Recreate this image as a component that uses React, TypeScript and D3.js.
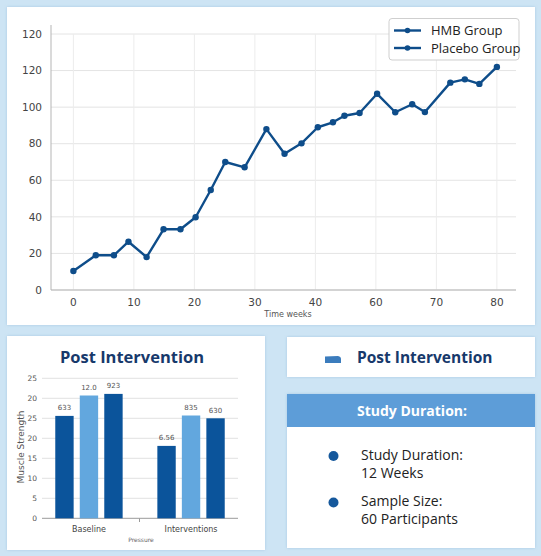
import React from "react";
import * as d3 from "d3";

// ---------- Line chart data ----------
const weeks = [0, 3.7, 6.7, 9.1, 12.1, 14.9, 17.7, 20.2, 22.7, 25.1, 28.3, 31.9, 34.9, 37.7, 40.4, 42.9, 44.8, 47.3, 50.2, 53.2, 56.0, 58.1, 62.3, 64.7, 67.1, 70.0];
const strength = [10.4, 19.0, 19.0, 26.4, 18.0, 33.2, 33.2, 39.8, 54.7, 70.0, 67.1, 88.0, 74.5, 80.2, 89.0, 91.7, 95.3, 96.8, 107.3, 97.2, 101.6, 97.3, 113.4, 115.2, 112.7, 122.0];
const xTickVals = [0, 10, 20, 30, 40, 50, 60, 70];
const xTickLabels = ["0", "10", "20", "30", "40", "60", "70", "80"];
const yTickVals = [0, 20, 40, 60, 80, 100, 120, 140];
const yTickLabels = ["0", "20", "40", "60", "80", "100", "120", "120"];
const legendItems = ["HMB Group", "Placebo Group"];

// ---------- Bar chart data ----------
const groups = ["Baseline", "Interventions"];
const seriesKeys = ["a", "b", "c"];
const baselineValues = [25.6, 30.7, 31.1];
const interventionValues = [18.1, 25.7, 25.0];
const baselineLabels = ["633", "12.0", "923"];
const interventionLabels = ["6.56", "835", "630"];
const barYTickVals = [0, 5, 10, 15, 20, 25, 30, 35];
const barYTickLabels = ["0", "5", "10", "15", "20", "25", "20", "25"];

// ---------- Info ----------
const infoItems = [
  ["Study Duration:", "12 Weeks"],
  ["Sample Size:", "60 Participants"],
];

const LINE = "#0e4d8a";
const DARK = "#0b549b";
const LIGHT = "#62a7de";
const NAVY = "#17396b";

export default function App() {
  // line chart scales
  const x = d3.scaleLinear().domain([0, 70]).range([73.4, 496.9]);
  const y = d3.scaleLinear().domain([0, 140]).range([290, 34]);
  const pts = weeks.map((w, i) => [w, strength[i]] as [number, number]);
  const line = d3.line<[number, number]>().x((d) => x(d[0])).y((d) => y(d[1]));

  // bar chart scales
  const x0 = d3.scaleBand<string>().domain(groups).range([42, 238]).paddingInner(0.34).paddingOuter(0.13);
  const x1 = d3.scaleBand<string>().domain(seriesKeys).range([0, x0.bandwidth()]).paddingInner(0.25).paddingOuter(0);
  const yb = d3.scaleLinear().domain([0, 35]).range([518.3, 378.3]);
  const barData = [
    { g: groups[0], vals: baselineValues, labels: baselineLabels },
    { g: groups[1], vals: interventionValues, labels: interventionLabels },
  ];
  const barColor = d3.scaleOrdinal<string, string>().domain(seriesKeys).range([DARK, LIGHT, DARK]);

  const sans = "'Open Sans', 'Noto Sans', sans-serif";
  const dv = "'DejaVu Sans', sans-serif";

  return (
    <svg width={541} height={556} style={{ position: "absolute", left: 0, top: 0 }} xmlns="http://www.w3.org/2000/svg">
      <defs>
        <filter id="sh" x="-5%" y="-5%" width="110%" height="110%">
          <feDropShadow dx="0" dy="0" stdDeviation="1.5" floodColor="#8fb6d6" floodOpacity="0.6" />
        </filter>
      </defs>
      <rect x={0} y={0} width={541} height={556} fill="#cde4f4" />

      {/* ---------- Top panel ---------- */}
      <rect x={7} y={7} width={528} height={318} fill="#fff" filter="url(#sh)" />
      {/* grid */}
      {yTickVals.map((v) => (
        <line key={"gy" + v} x1={51} x2={516} y1={y(v)} y2={y(v)} stroke="#e4e4e4" strokeWidth={1} />
      ))}
      {xTickVals.map((v) => (
        <line key={"gx" + v} x1={x(v)} x2={x(v)} y1={34} y2={290} stroke="#ececec" strokeWidth={1} />
      ))}
      {/* axes */}
      <line x1={51} x2={51} y1={25} y2={290} stroke="#b5b5b5" strokeWidth={1} />
      <line x1={51} x2={516} y1={290} y2={290} stroke="#b5b5b5" strokeWidth={1} />
      {yTickVals.map((v, i) => (
        <text key={"yl" + v} x={42} y={y(v)} dy="0.35em" textAnchor="end" fontFamily={dv} fontSize={10.5} fill="#444">
          {yTickLabels[i]}
        </text>
      ))}
      {xTickVals.map((v, i) => (
        <text key={"xl" + v} x={x(v)} y={306} textAnchor="middle" fontFamily={dv} fontSize={10.5} fill="#444">
          {xTickLabels[i]}
        </text>
      ))}
      <text x={288} y={317} textAnchor="middle" fontFamily={dv} fontSize={8} fill="#555">
        Time weeks
      </text>
      <path d={line(pts) || ""} fill="none" stroke={LINE} strokeWidth={2.4} strokeLinejoin="round" />
      {pts.map((p, i) => (
        <circle key={"p" + i} cx={x(p[0])} cy={y(p[1])} r={3.2} fill={LINE} />
      ))}
      {/* legend */}
      <rect x={389} y={18.5} width={130} height={41.5} rx={3} fill="#fff" stroke="#cfcfcf" strokeWidth={1} />
      {legendItems.map((t, i) => (
        <g key={t} transform={`translate(0, ${30.5 + i * 17.5})`}>
          <line x1={394} x2={421} y1={0} y2={0} stroke={LINE} strokeWidth={2.4} />
          <circle cx={407.5} cy={0} r={2.8} fill={LINE} />
          <text x={431} y={0} dy="0.35em" fontFamily={sans} fontSize={13} fill="#222">
            {t}
          </text>
        </g>
      ))}

      {/* ---------- Bottom-left panel ---------- */}
      <rect x={7} y={336} width={258} height={214} fill="#fff" filter="url(#sh)" />
      <text x={132} y={363} textAnchor="middle" fontFamily={sans} fontWeight={700} fontSize={16.5} fill={NAVY}>
        Post Intervention
      </text>
      {barYTickVals.map((v, i) => (
        <g key={"by" + v}>
          <line x1={42} x2={238} y1={yb(v)} y2={yb(v)} stroke={v === 0 ? "#9a9a9a" : "#e2e2e2"} strokeWidth={1} />
          <text x={37} y={yb(v)} dy="0.35em" textAnchor="end" fontFamily={dv} fontSize={7.5} fill="#555">
            {barYTickLabels[i]}
          </text>
        </g>
      ))}
      <line x1={139.5} x2={139.5} y1={518.3} y2={522} stroke="#9a9a9a" strokeWidth={1} />
      {barData.map((gd) => (
        <g key={gd.g} transform={`translate(${x0(gd.g)},0)`}>
          {seriesKeys.map((k, i) => (
            <g key={k}>
              <rect x={x1(k)} y={yb(gd.vals[i])} width={x1.bandwidth()} height={yb(0) - yb(gd.vals[i])} fill={barColor(k)} />
              <text x={(x1(k) || 0) + x1.bandwidth() / 2} y={yb(gd.vals[i]) - 5.5} textAnchor="middle" fontFamily={dv} fontSize={7} fill="#555">
                {gd.labels[i]}
              </text>
            </g>
          ))}
          <text x={x0.bandwidth() / 2} y={532} textAnchor="middle" fontFamily={dv} fontSize={8} fill="#444">
            {gd.g}
          </text>
        </g>
      ))}
      <text x={141} y={542} textAnchor="middle" fontFamily={dv} fontSize={6} fill="#666">
        Pressure
      </text>
      <text transform="translate(24,447) rotate(-90)" textAnchor="middle" fontFamily={dv} fontSize={9} fill="#555">
        Muscle Strength
      </text>

      {/* ---------- Bottom-right top card ---------- */}
      <rect x={287} y={337} width={248} height={40} fill="#fff" filter="url(#sh)" />
      <path d="M325,356.5 L338,356 Q341,356.5 341,359 L341,363 L325,363 Z" fill="#3b7cbd" />
      <text x={357} y={363} fontFamily={sans} fontWeight={700} fontSize={15.5} fill={NAVY}>
        Post Intervention
      </text>

      {/* ---------- Study duration box ---------- */}
      <rect x={287} y={394} width={248} height={154} fill="#fff" filter="url(#sh)" />
      <rect x={287} y={394} width={248} height={33} fill="#5d9dd8" />
      <text x={412} y={416} textAnchor="middle" fontFamily={sans} fontWeight={700} fontSize={14} fill="#fff">
        Study Duration:
      </text>
      {infoItems.map((it, i) => (
        <g key={it[0]} transform={`translate(0, ${i * 46.5})`}>
          <circle cx={333.5} cy={456} r={5} fill="#15589c" />
          <text x={361} y={459.5} fontFamily={sans} fontSize={14} fill="#222">
            {it[0]}
          </text>
          <text x={361} y={477.5} fontFamily={sans} fontSize={14} fill="#222">
            {it[1]}
          </text>
        </g>
      ))}
    </svg>
  );
}
